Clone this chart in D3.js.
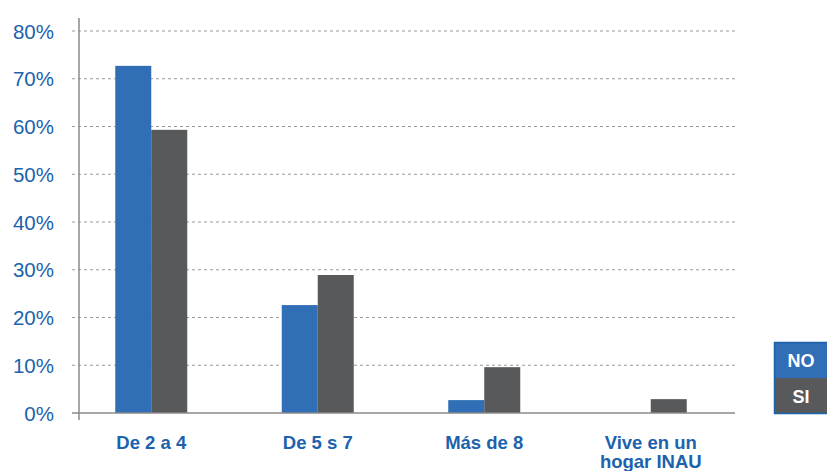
<!DOCTYPE html>
<html>
<head>
<meta charset="utf-8">
<script src="https://cdn.jsdelivr.net/npm/d3@7"></script>
<style>
  body { margin: 0; background: #fff; }
  text { font-family: "Liberation Sans", Arial, sans-serif; }
</style>
</head>
<body>
<script>
// datos
var categorias = [["De 2 a 4"], ["De 5 s 7"], ["Más de 8"], ["Vive en un", "hogar INAU"]];
var series = ["NO", "SI"];
var valoresNO = [72.7, 22.6, 2.7, 0];
var valoresSI = [59.3, 28.9, 9.6, 2.9];
var ticks = [0, 10, 20, 30, 40, 50, 60, 70, 80];

var ancho = 827, alto = 471;
var colores = { NO: "#306eb6", SI: "#58595b" };
var azulTexto = "#1c62ad";

var svg = d3.select("body")
  .append("svg")
  .attr("width", ancho)
  .attr("height", alto);

var escalaY = d3.scaleLinear().domain([0, 80]).range([413, 31]);
var escalaX = d3.scaleBand().domain(d3.range(categorias.length)).range([68, 734]);
var escalaSub = d3.scaleBand().domain(series).range([0, 72]);

// lineas de la grilla
svg.selectAll("line.grid")
  .data(ticks.filter(function(t){ return t > 0; }))
  .enter()
  .append("line")
  .attr("x1", 72).attr("x2", 735)
  .attr("y1", function(d){ return escalaY(d); })
  .attr("y2", function(d){ return escalaY(d); })
  .attr("stroke", "#9a9a9a")
  .attr("stroke-width", 1.2)
  .attr("stroke-dasharray", "3,3");

// etiquetas eje y
svg.selectAll("text.ytick")
  .data(ticks)
  .enter()
  .append("text")
  .attr("x", 54)
  .attr("y", function(d){ return escalaY(d) + 7.5; })
  .attr("text-anchor", "end")
  .attr("font-size", 20.5)
  .attr("fill", azulTexto)
  .text(function(d){ return d + "%"; });

// barras
var datos = [];
categorias.forEach(function(c, i){
  datos.push({ i: i, s: "NO", v: valoresNO[i] });
  datos.push({ i: i, s: "SI", v: valoresSI[i] });
});

svg.selectAll("rect.bar")
  .data(datos)
  .enter()
  .append("rect")
  .attr("x", function(d){ return escalaX(d.i) + escalaX.bandwidth() / 2 - 36 + escalaSub(d.s); })
  .attr("y", function(d){ return escalaY(d.v); })
  .attr("width", escalaSub.bandwidth())
  .attr("height", function(d){ return escalaY(0) - escalaY(d.v); })
  .attr("fill", function(d){ return colores[d.s]; });

// ejes
svg.append("line")
  .attr("x1", 79).attr("x2", 79)
  .attr("y1", 18).attr("y2", 420)
  .attr("stroke", "#8a8a8a").attr("stroke-width", 1.5);
svg.append("line")
  .attr("x1", 72).attr("x2", 735)
  .attr("y1", 413).attr("y2", 413)
  .attr("stroke", "#8a8a8a").attr("stroke-width", 1.5);

// etiquetas categorias
var etiquetas = svg.selectAll("text.cat")
  .data(categorias)
  .enter()
  .append("text")
  .attr("text-anchor", "middle")
  .attr("font-size", 18.5)
  .attr("font-weight", "bold")
  .attr("fill", azulTexto);
etiquetas.selectAll("tspan")
  .data(function(d, i){ return d.map(function(t){ return { t: t, i: i }; }); })
  .enter()
  .append("tspan")
  .attr("x", function(d){ return escalaX(d.i) + escalaX.bandwidth() / 2; })
  .attr("y", function(d, j){ return 449 + j * 19; })
  .text(function(d){ return d.t; });

// leyenda
var leyenda = svg.append("g");
series.forEach(function(s, i){
  leyenda.append("rect")
    .attr("x", 774).attr("y", 342 + i * 36)
    .attr("width", 60).attr("height", 36)
    .attr("fill", colores[s]);
  leyenda.append("text")
    .attr("x", 801).attr("y", 342 + i * 36 + 25)
    .attr("text-anchor", "middle")
    .attr("font-size", 18)
    .attr("font-weight", "bold")
    .attr("fill", "#fff")
    .text(s);
});
leyenda.append("rect")
  .attr("x", 774.5).attr("y", 342.5)
  .attr("width", 60).attr("height", 71)
  .attr("fill", "none")
  .attr("stroke", "#1c62ad").attr("stroke-width", 1.5);
</script>
</body>
</html>
